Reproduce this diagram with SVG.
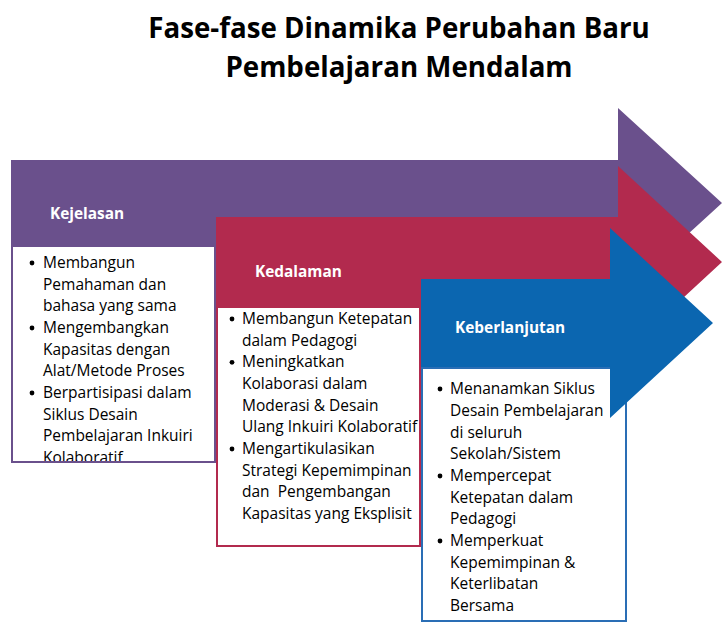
<svg xmlns="http://www.w3.org/2000/svg" width="728" height="634" viewBox="0 0 728 634">
<style>
.title{font-family:"Open Sans","Noto Sans",sans-serif;font-weight:bold;font-size:27.7px;fill:#000;text-anchor:middle}
.hdr{font-family:"Open Sans","Noto Sans",sans-serif;font-weight:bold;font-size:15.4px;fill:#fff}
.body{font-family:"Open Sans","Noto Sans",sans-serif;font-size:15.5px;fill:#000}
.bul{fill:#000}
.pu{fill:#6A508C}.re{fill:#B22A4E}.bl{fill:#0B66B0}
.box{fill:#fff}
.puS{fill:none;stroke:#6A508C;stroke-width:2}
.reS{fill:none;stroke:#B22A4E;stroke-width:2}
.blS{fill:none;stroke:#2A6EB5;stroke-width:2}
</style>
<rect width="728" height="634" fill="#fff"/>
<g id="title">
<text class="title" x="399" y="38">Fase-fase Dinamika Perubahan Baru</text>
<text class="title" x="399" y="77">Pembelajaran Mendalam</text>
</g>
<g id="kejelasan">
<polygon class="pu" points="11,160 618,160 618,108 722,203 618,298 618,246 11,246"/>
<rect class="box" x="12" y="246" width="203" height="216"/>
<text class="hdr" x="50" y="219">Kejelasan</text>
<circle class="bul" cx="32" cy="263" r="2.4"/>
<text class="body" x="43" y="268">Membangun</text>
<text class="body" x="43" y="289.7">Pemahaman dan</text>
<text class="body" x="43" y="311.3">bahasa yang sama</text>
<circle class="bul" cx="32" cy="328" r="2.4"/>
<text class="body" x="43" y="333">Mengembangkan</text>
<text class="body" x="43" y="354.7">Kapasitas dengan</text>
<text class="body" x="43" y="376.3">Alat/Metode Proses</text>
<circle class="bul" cx="32" cy="393" r="2.4"/>
<text class="body" x="43" y="398">Berpartisipasi dalam</text>
<text class="body" x="43" y="419.7">Siklus Desain</text>
<text class="body" x="43" y="441.3">Pembelajaran Inkuiri</text>
<text class="body" x="43" y="463">Kolaboratif</text>
<rect class="puS" x="12" y="246" width="203" height="216"/>
</g>
<g id="kedalaman">
<polygon class="re" points="216,217 618,217 618,166 722,262 618,358 618,307 216,307"/>
<rect class="box" x="217" y="307" width="203" height="239"/>
<text class="hdr" x="255" y="277">Kedalaman</text>
<circle class="bul" cx="232" cy="319" r="2.4"/>
<text class="body" x="242" y="324">Membangun Ketepatan</text>
<text class="body" x="242" y="345.7">dalam Pedagogi</text>
<circle class="bul" cx="232" cy="362.3" r="2.4"/>
<text class="body" x="242" y="367.3">Meningkatkan</text>
<text class="body" x="242" y="389">Kolaborasi dalam</text>
<text class="body" x="242" y="410.7">Moderasi &amp; Desain</text>
<text class="body" x="242" y="432.3">Ulang Inkuiri Kolaboratif</text>
<circle class="bul" cx="232" cy="449" r="2.4"/>
<text class="body" x="242" y="454">Mengartikulasikan</text>
<text class="body" x="242" y="475.7">Strategi Kepemimpinan</text>
<text class="body" x="242" y="497.3" xml:space="preserve">dan  Pengembangan</text>
<text class="body" x="242" y="519">Kapasitas yang Eksplisit</text>
<rect class="reS" x="217" y="307" width="203" height="239"/>
</g>
<g id="keberlanjutan">
<rect class="box" x="422" y="368" width="204" height="253"/>
<rect class="blS" x="422" y="368" width="204" height="253"/>
<polygon class="bl" points="421,279 610,279 610,228 713,323 610,418 610,367 421,367"/>
<text class="hdr" x="455" y="333">Keberlanjutan</text>
<circle class="bul" cx="440" cy="389" r="2.4"/>
<text class="body" x="450" y="394">Menanamkan Siklus</text>
<text class="body" x="450" y="416">Desain Pembelajaran</text>
<text class="body" x="450" y="438">di seluruh</text>
<text class="body" x="450" y="459">Sekolah/Sistem</text>
<circle class="bul" cx="440" cy="476" r="2.4"/>
<text class="body" x="450" y="481">Mempercepat</text>
<text class="body" x="450" y="503">Ketepatan dalam</text>
<text class="body" x="450" y="524">Pedagogi</text>
<circle class="bul" cx="440" cy="541" r="2.4"/>
<text class="body" x="450" y="546">Memperkuat</text>
<text class="body" x="450" y="568">Kepemimpinan &amp;</text>
<text class="body" x="450" y="589">Keterlibatan</text>
<text class="body" x="450" y="611">Bersama</text>
</g>
<g id="connectors"/>
</svg>
